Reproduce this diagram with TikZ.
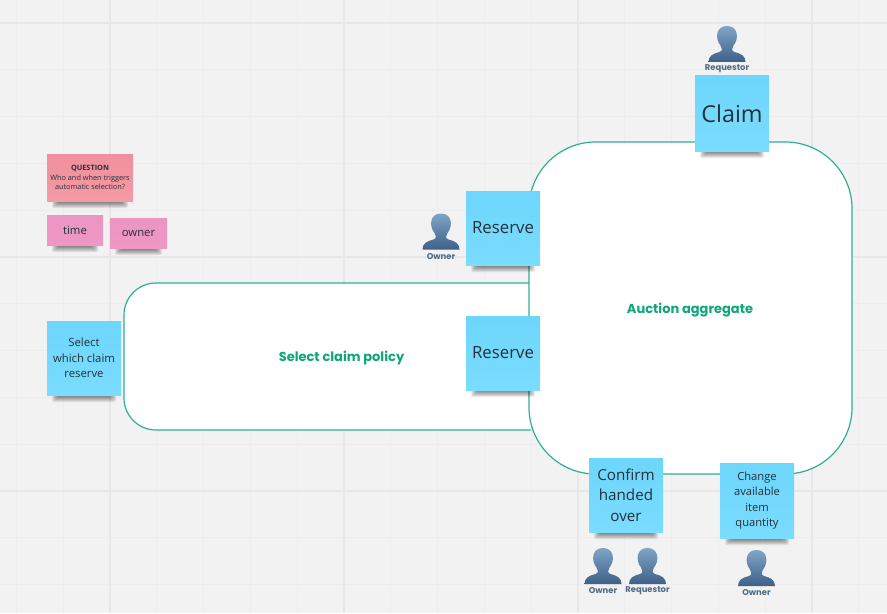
\documentclass[tikz,border=0pt]{standalone}
\usepackage{fontspec}
\setmainfont{Open Sans}
\newfontfamily\labelfont{Poppins}
\usetikzlibrary{positioning}
\definecolor{bgc}{HTML}{F2F2F2}
\definecolor{gridminor}{HTML}{EDEDED}
\definecolor{gridmajor}{HTML}{E7E7E7}
\definecolor{framec}{HTML}{2FB095}
\definecolor{titlec}{HTML}{0FA67C}
\definecolor{skyc}{HTML}{6DD6FB}
\definecolor{skyd}{HTML}{7ADCFF}
\definecolor{redc}{HTML}{F0909C}
\definecolor{redd}{HTML}{F59AA6}
\definecolor{pinkc}{HTML}{EC94C2}
\definecolor{pinkd}{HTML}{EE98C6}
\definecolor{inkc}{HTML}{26303A}
\definecolor{persontop}{HTML}{7FA5C6}
\definecolor{personbot}{HTML}{3E6088}
\definecolor{personlab}{HTML}{4F6C85}
\tikzset{
  x=0.75pt,y=-0.75pt,
  frame/.style={draw=framec,line width=0.9pt,fill=white,rounded corners=#1},
  sticky/.style={inner sep=0pt,align=center,text=inkc,anchor=center},
  persontext/.style={font=\labelfont\bfseries\fontsize{6.3}{6.3}\selectfont,text=personlab,inner sep=0pt},
  areatitle/.style={font=\labelfont\bfseries\fontsize{9.75}{12}\selectfont,text=titlec,inner sep=0pt},
  personpic/.style={top color=persontop,bottom color=personbot,draw=none},
}
% sticker: name, x0, y0, x1, y1, colour top, colour bottom, font size and leading, text
\newcommand{\sticker}[9]{%
  \foreach \k in {0,...,7}{
    \fill[black,opacity=0.08,rounded corners=1pt] ({#2+5+\k},{#5-4}) rectangle ({#4-5-\k},{#5+7-0.9*\k});
  }
  \path[top color=#6,bottom color=#7] (#2,#3) rectangle (#4,#5);
  \node[sticky,font=#8] (#1) at ({(#2+#4)/2},{(#3+#5)/2}) {#9};
}
% person: name, centre x, top y, label
\newcommand{\person}[4]{%
  \begin{scope}[shift={(#2,#3)}]
    \path[personpic] (-18.5,36) .. controls (-18.5,30) and (-14,27.5) .. (-7.5,26)
      .. controls (-4,25) and (-5,21.5) .. (-6.5,19.5)
      .. controls (-12,13) and (-11.5,0) .. (0,0)
      .. controls (11.5,0) and (12,13) .. (6.5,19.5)
      .. controls (5,21.5) and (4,25) .. (7.5,26)
      .. controls (14,27.5) and (18.5,30) .. (18.5,36) -- cycle;
    \node[persontext] (#1) at (0,42.8) {#4};
  \end{scope}
}
\newcommand{\fsz}[2]{\fontsize{#1}{#2}\selectfont}
\begin{document}
\begin{tikzpicture}
\path[use as bounding box] (0,0) rectangle (887,613);
\fill[bgc] (0,0) rectangle (887,613);
\foreach \k in {-2,...,16}{
  \draw[gridminor,line width=0.7pt] ({110+46.8*\k},0) -- ({110+46.8*\k},613);
}
\foreach \k in {0,...,12}{
  \draw[gridminor,line width=0.7pt] (0,{23+46.8*\k}) -- (887,{23+46.8*\k});
}
\foreach \k in {0,...,3}{
  \draw[gridmajor,line width=0.9pt] ({110+234*\k},0) -- ({110+234*\k},613);
}
\foreach \k in {0,...,2}{
  \draw[gridmajor,line width=0.9pt] (0,{23+234*\k}) -- (887,{23+234*\k});
}
\draw[frame=24pt] (531,283) -- (124,283) -- (124,430) -- (531,430);
\draw[frame=50pt] (529,142) rectangle (852,474);
\node[areatitle] (selectarea) at (341.5,358) {Select claim policy};
\node[areatitle] (auctionarea) at (690,310) {Auction aggregate};
\sticker{claim}{695}{76}{769}{151}{skyc}{skyd}{\fsz{17.5}{21}}{Claim}
\sticker{reserveA}{466}{191}{540}{265}{skyc}{skyd}{\fsz{12.6}{16}}{Reserve}
\sticker{reserveB}{466}{316}{540}{390}{skyc}{skyd}{\fsz{12.6}{16}}{Reserve}
\sticker{selectclaim}{47}{321}{121}{395}{skyc}{skyd}{\fsz{8.5}{11.5}}{Select\\which claim\\reserve}
\sticker{confirm}{589}{458}{663}{532}{skyc}{skyd}{\fsz{11.4}{15.5}}{Confirm\\handed\\over}
\sticker{change}{720}{463}{794}{538}{skyc}{skyd}{\fsz{8.4}{11.6}}{Change\\available\\item\\quantity}
\sticker{question}{47}{154}{133}{201}{redc}{redd}{\fsz{5.5}{7.2}}{\textbf{QUESTION}\\Who and when triggers\\automatic selection?}
\sticker{time}{47}{215}{103}{245}{pinkc}{pinkd}{\fsz{8.5}{10}}{time}
\sticker{owner}{110}{218}{167}{248}{pinkc}{pinkd}{\fsz{8.5}{10}}{owner}
\person{pA}{727}{26}{Requestor}
\person{pB}{441}{213.5}{Owner}
\person{pC}{603}{548}{Owner}
\person{pD}{647.5}{548}{Requestor}
\person{pE}{756.5}{550}{Owner}
\end{tikzpicture}
\end{document}
